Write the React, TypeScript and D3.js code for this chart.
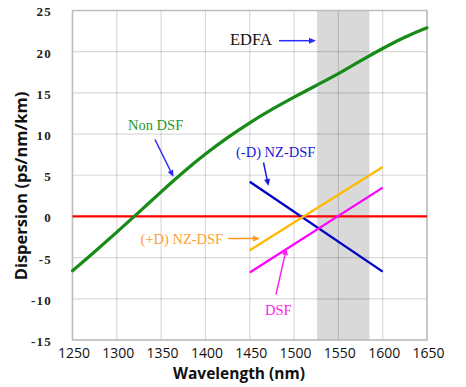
import React from "react";
import * as d3 from "d3";

const W = 466;
const H = 387;

const xTicks = [1250, 1300, 1350, 1400, 1450, 1500, 1550, 1600, 1650];
const yTicks = [-15, -10, -5, 0, 5, 10, 15, 20, 25];

const nonDsfWl = [1250, 1275, 1300, 1325, 1350, 1375, 1400, 1425, 1450, 1475, 1500, 1525, 1550, 1575, 1600, 1625, 1650];
const nonDsfD = [-6.6, -4.3, -1.9, 0.5, 3.0, 5.4, 7.6, 9.6, 11.4, 13.0, 14.5, 15.9, 17.3, 18.9, 20.4, 21.8, 22.9];

const nzWl = [1450, 1600];
const negNzD = [4.2, -6.7];
const posNzD = [-4.1, 6.0];
const dsfD = [-6.8, 3.5];
const zeroWl = [1250, 1650];
const zeroD = [0, 0];
const edfaBand = [1526, 1585];

const margin = { left: 72.5, right: 466 - 427, top: 10.5, bottom: 387 - 340 };

export default function App() {
  const x = d3.scaleLinear().domain([1250, 1650]).range([margin.left, W - margin.right]);
  const y = d3.scaleLinear().domain([-15, 25]).range([H - margin.bottom, margin.top]);
  const line = d3
    .line<[number, number]>()
    .x((d) => x(d[0]))
    .y((d) => y(d[1]));
  const curve = d3
    .line<[number, number]>()
    .x((d) => x(d[0]))
    .y((d) => y(d[1]))
    .curve(d3.curveBasis);

  const zip = (a: number[], b: number[]) => a.map((v, i) => [v, b[i]] as [number, number]);

  const serif = "'Liberation Serif', 'Times New Roman', serif";
  const sans = "'Open Sans', 'Noto Sans', sans-serif";

  const arrow = (x1: number, y1: number, x2: number, y2: number, color: string, key: string) => {
    const ang = Math.atan2(y2 - y1, x2 - x1);
    const len = 7;
    const wid = 3;
    const bx = x2 - len * Math.cos(ang);
    const by = y2 - len * Math.sin(ang);
    const px = -Math.sin(ang) * wid;
    const py = Math.cos(ang) * wid;
    return (
      <g key={key}>
        <line x1={x1} y1={y1} x2={bx} y2={by} stroke={color} strokeWidth={1.5} />
        <polygon points={`${x2},${y2} ${bx + px},${by + py} ${bx - px},${by - py}`} fill={color} />
      </g>
    );
  };

  return (
    <div style={{ position: "absolute", left: 0, top: 0 }}>
      <svg width={W} height={H} style={{ display: "block", background: "#fff" }}>
        {/* EDFA band */}
        <rect
          x={x(edfaBand[0])}
          y={y(25)}
          width={x(edfaBand[1]) - x(edfaBand[0])}
          height={y(-15) - y(25)}
          fill="#d9d9d9"
        />
        {/* grid */}
        {xTicks.map((t) => (
          <line key={"gx" + t} x1={x(t)} x2={x(t)} y1={y(25)} y2={y(-15)} stroke="#000" strokeOpacity={0.15} strokeWidth={1.2} />
        ))}
        {yTicks.map((t) => (
          <line key={"gy" + t} x1={x(1250)} x2={x(1650)} y1={y(t)} y2={y(t)} stroke="#000" strokeOpacity={0.15} strokeWidth={1.2} />
        ))}
        {/* frame */}
        <rect
          x={x(1250)}
          y={y(25)}
          width={x(1650) - x(1250)}
          height={y(-15) - y(25)}
          fill="none"
          stroke="#bdbdbd"
          strokeWidth={1.5}
        />
        {/* y tick labels */}
        {yTicks.map((t) => (
          <text
            key={"ty" + t}
            x={52}
            y={y(t) + 3}
            textAnchor="end"
            dominantBaseline="middle"
            fontFamily={serif}
            fontWeight="bold"
            fontSize={13}
            letterSpacing={1.2}
            fill="#222"
          >
            {t}
          </text>
        ))}
        {/* x tick labels */}
        {xTicks.map((t) => (
          <text
            key={"tx" + t}
            x={x(t) + 1.5}
            y={358}
            textAnchor="middle"
            fontFamily={sans}
            fontSize={14}
            fill="#111"
          >
            {t}
          </text>
        ))}
        {/* axis titles */}
        <text x={239} y={379} textAnchor="middle" fontFamily={sans} fontWeight="bold" fontSize={15.5} fill="#111">
          Wavelength (nm)
        </text>
        <text
          transform={`translate(27,186) rotate(-90)`}
          textAnchor="middle"
          fontFamily={sans}
          fontWeight="bold"
          fontSize={16.5}
          fill="#111"
        >
          Dispersion (ps/nm/km)
        </text>

        {/* series */}
        <path d={line(zip(zeroWl, zeroD)) || ""} stroke="#ff0000" strokeWidth={2.2} fill="none" />
        <path d={curve(zip(nonDsfWl, nonDsfD)) || ""} stroke="#178a17" strokeWidth={3.2} fill="none" strokeLinecap="round" />
        <path d={line(zip(nzWl, negNzD)) || ""} stroke="#0000c8" strokeWidth={2.4} fill="none" />
        <path d={line(zip(nzWl, posNzD)) || ""} stroke="#ffb900" strokeWidth={2.2} fill="none" />
        <path d={line(zip(nzWl, dsfD)) || ""} stroke="#ff00ff" strokeWidth={2.2} fill="none" />

        {/* annotations */}
        <text x={230} y={45} fontFamily={serif} fontSize={16.5} fill="#111">EDFA</text>
        {arrow(279, 40.7, 316, 40.7, "#2b2bff", "a1")}

        <text x={128} y={129.5} fontFamily={serif} fontSize={14.5} fill="#1e9a2a">Non DSF</text>
        {arrow(155, 139.5, 173.5, 177, "#2b2bff", "a2")}

        <text x={236} y={157} fontFamily={serif} fontSize={14.5} fill="#1a1adc">(-D) NZ-DSF</text>
        {arrow(263.5, 162.5, 268.5, 186, "#1a1adc", "a3")}

        <text x={140.5} y={243.5} fontFamily={serif} fontSize={14.5} fill="#ffa030">(+D) NZ-DSF</text>
        {arrow(228, 238.5, 260, 238.5, "#ff9a20", "a4")}

        <text x={265} y={315} fontFamily={serif} fontSize={14.5} fill="#ff22ee">DSF</text>
        {arrow(276, 294.5, 286.5, 248, "#ff22ee", "a5")}
      </svg>
    </div>
  );
}
